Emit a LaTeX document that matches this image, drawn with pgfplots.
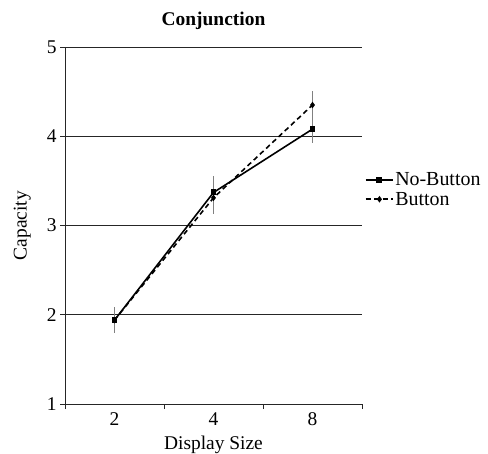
\documentclass[border=0pt]{standalone}
\usepackage{pgfplots}
\pgfplotsset{compat=1.18}
\usepackage{fontspec}
\setmainfont{Liberation Serif}
\newcommand{\bigf}{\fontsize{19.5}{22}\selectfont}
\begin{document}
\begin{tikzpicture}[font=\bigf]
\begin{axis}[
  at={(0,0)}, anchor=south west,
  scale only axis, width=297bp, height=357bp,
  xmin=-0.5, xmax=2.5, ymin=1, ymax=5,
  xtick={-0.5,0.5,1.5,2.5}, xticklabels={},
  extra x ticks={0,1,2}, extra x tick labels={2,4,8},
  extra x tick style={major tick length=0bp, ymajorgrids=false},
  ytick={1,2,3,4,5},
  ymajorgrids, grid style={black!85, line width=0.8pt},
  axis x line*=bottom, axis y line*=left,
  axis line style={black!85, line width=0.8pt, -},
  tick style={black!85, line width=0.8pt},
  major tick length=5bp,
  tick align=outside,
  every tick label/.append style={font=\bigf},
  xticklabel style={yshift=-5bp},
  label style={font=\bigf},
  /pgf/number format/assume math mode=true,
  title={\textbf{Conjunction}},
  title style={font=\bigf, yshift=8bp},
  xlabel={Display Size}, ylabel={Capacity},
  xlabel style={yshift=1bp},
  ylabel style={yshift=9bp},
  legend style={draw=none, fill=none, at={(1.01,0.652)}, anchor=north west,
    font=\fontsize{20}{22}\selectfont, row sep=1.5bp, inner sep=0pt,
    nodes={inner sep=1.5pt}},
  legend cell align=left,
  legend image code/.code={\draw[#1] (0bp,0bp) -- (27bp,0bp); \draw[#1, mark repeat=2, mark phase=2] plot coordinates {(0bp,0bp) (13.5bp,0bp) (27bp,0bp)};},
]
\addplot[black, line width=1.6pt, mark=square*, mark size=2.2pt, mark options={solid},
  error bars/.cd, y dir=both, y explicit, error bar style={gray, line width=1pt}, error mark=none]
  coordinates {(0,1.94) +- (0,0.15) (1,3.37) +- (0,0.18) (2,4.08) +- (0,0.16)};
\addlegendentry{No-Button}
\addplot[black, line width=1.6pt, dash pattern=on 5bp off 3.5bp, mark=diamond*, mark size=2pt, mark options={solid},
  error bars/.cd, y dir=both, y explicit, error bar style={gray, line width=1pt, solid}, error mark=none]
  coordinates {(0,1.94) +- (0,0.15) (1,3.31) +- (0,0.18) (2,4.35) +- (0,0.16)};
\addlegendentry{Button}
\end{axis}
\pgfresetboundingbox
\useasboundingbox (-65bp,-50bp) rectangle (423bp,404bp);
\end{tikzpicture}
\end{document}
